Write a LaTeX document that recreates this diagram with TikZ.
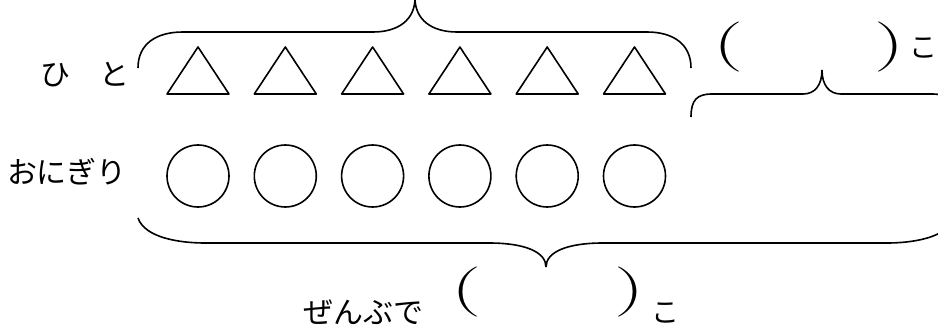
\documentclass[tikz,border=0pt]{standalone}
\usepackage{fontspec}
\newfontfamily\jp{Noto Sans CJK JP}
\begin{document}
\begin{tikzpicture}[x=1pt, y=-1pt,
	shp/.style={black, line width=1.6pt, line join=round},
	brc/.style={black, line width=1.6pt},
	jtxt/.style={inner sep=0pt, font=\jp\fontsize{30}{33}\selectfont},
	par/.style={inner sep=0pt, xscale=1.7, font=\fontsize{50}{52}\selectfont}]
	\useasboundingbox (0,0) rectangle (938,329);
	
	\foreach \i in {0,...,5} {
		\draw[shp] (167+87.3*\i,94) -- (198+87.3*\i,47) -- (229+87.3*\i,94) -- cycle;
		\draw[shp] (198+87.3*\i,176) circle (31);
	}
	
	\node[jtxt] (hito) at (85,75) {ひ　と};
	\node[jtxt] (onigiri) at (67,172) {おにぎり};
	\node[jtxt] (zenbu) at (363,312) {ぜんぶで};
	
	\draw[brc] (138,68) .. controls (138,44) and (156,32) .. (183,32) -- (373,32) .. controls (398,32) and (415,20) .. (415,-2);
	\draw[brc] (691,68) .. controls (691,44) and (673,32) .. (647,32) -- (457,32) .. controls (432,32) and (415,20) .. (415,-2);
	
	\draw[brc] (691,117) .. controls (691,100) and (697,94) .. (712,94) -- (803,94) .. controls (815,94) and (822,85) .. (822,70);
	\draw[brc] (953,117) .. controls (953,100) and (947,94) .. (932,94) -- (841,94) .. controls (829,94) and (822,85) .. (822,70);
	
	\draw[brc] (138,218) .. controls (145,238) and (180,243) .. (205,243) -- (489,243) .. controls (525,243) and (546,252) .. (546,267);
	\draw[brc] (954,218) .. controls (947,238) and (912,243) .. (887,243) -- (603,243) .. controls (567,243) and (546,252) .. (546,267);
	
	\node[par] (lparT) at (348,-25) {(};
	\node[par] (rparT) at (514,-25) {)};
	
	\node[par] (lparA) at (729,47) {(};
	\node[par] (rparA) at (890,47) {)};
	\node[jtxt, font=\jp\fontsize{28}{30}\selectfont] (koA) at (923,48) {こ};
	
	\node[par] (lparB) at (467,292) {(};
	\node[par] (rparB) at (630,292) {)};
	\node[jtxt, font=\jp\fontsize{28}{30}\selectfont] (koB) at (665,313) {こ};
	
\end{tikzpicture}
\end{document}
